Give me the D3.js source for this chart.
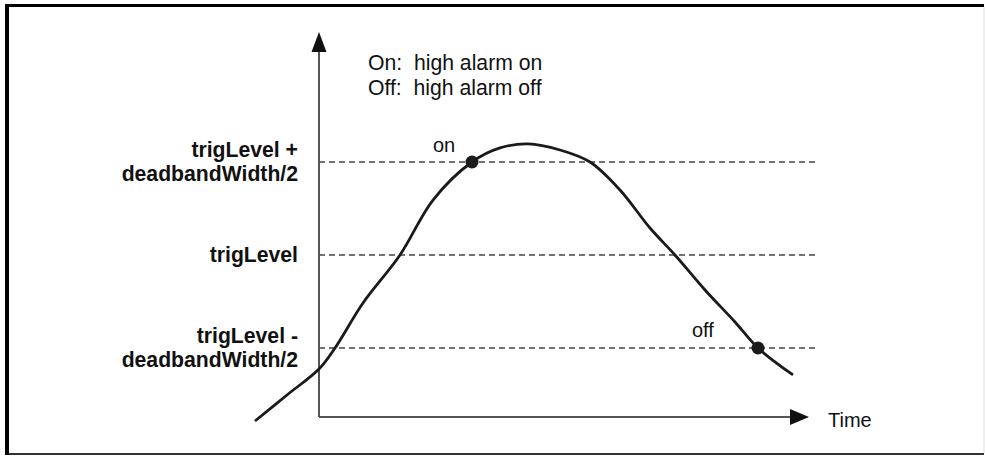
<!DOCTYPE html>
<html lang="en">
<head>
<meta charset="utf-8">
<title>High alarm with deadband</title>
<script src="https://d3js.org/d3.v7.min.js"></script>
<style>
  body { margin: 0; background: #fff; }
  text { font-family: "Liberation Sans", Arial, Helvetica, sans-serif; fill: #111; }
  .lvl { font-weight: bold; }
</style>
</head>
<body>
<svg id="chart" width="985" height="456"></svg>
<script>
// signal over time (time units, level units: 0 = trigLevel, +-1 = +-deadbandWidth/2)
var times  = [-12.8, -6.4, 0, 3.2, 8.8, 16.2, 22.8, 30.6, 36.2, 41.8, 48.2, 54.2, 60.2, 66.2, 71.2, 77.2, 83.2, 87.8, 94.8];
var values = [-1.785, -1.505, -1.226, -1.0, -0.516, 0, 0.591, 1.0, 1.151, 1.194, 1.129, 1.0, 0.699, 0.29, 0, -0.376, -0.72, -1.0, -1.29];

// threshold levels and their labels
var levels = [1, 0, -1];
var levelLabels = [["trigLevel +", "deadbandWidth/2"], ["trigLevel"], ["trigLevel -", "deadbandWidth/2"]];

// switching events
var eventTimes  = [30.6, 87.8];
var eventValues = [1, -1];
var eventNames  = ["on", "off"];

var legendLines = ["On:  high alarm on", "Off:  high alarm off"];
var axisLabel = "Time";

var svg = d3.select("#chart");

var x = d3.scaleLinear().domain([0, 100]).range([319, 819]);
var y = d3.scaleLinear().domain([-1, 1]).range([348, 162]);

var axisY = y(-1.742);   // time axis position
var topY = y(2.398);     // arrow tip of value axis
var axisEnd = x(98);     // arrow tip of time axis

// frame
svg.append("line").attr("x1", 5).attr("x2", 984).attr("y1", 5.5).attr("y2", 5.5)
  .attr("stroke", "#000").attr("stroke-width", 3);
svg.append("line").attr("x1", 7).attr("x2", 7).attr("y1", 4).attr("y2", 455)
  .attr("stroke", "#000").attr("stroke-width", 4);
svg.append("line").attr("x1", 9).attr("x2", 984).attr("y1", 454).attr("y2", 454)
  .attr("stroke", "#333").attr("stroke-width", 2);
svg.append("line").attr("x1", 984).attr("x2", 984).attr("y1", 7).attr("y2", 453)
  .attr("stroke", "#ddd").attr("stroke-width", 1);

// dashed threshold lines
svg.append("g").selectAll("line")
  .data(levels)
  .enter()
  .append("line")
    .attr("x1", x(0)).attr("x2", x(99.6))
    .attr("y1", function(d){ return y(d); })
    .attr("y2", function(d){ return y(d); })
    .attr("stroke", "#444")
    .attr("stroke-width", 1.3)
    .attr("stroke-dasharray", "6,4");

// axes with arrow heads
svg.append("line").attr("x1", x(0)).attr("x2", x(0)).attr("y1", axisY).attr("y2", topY + 16)
  .attr("stroke", "#555").attr("stroke-width", 2);
svg.append("path")
  .attr("d", "M" + x(0) + "," + topY + "L" + (x(0) - 7.5) + "," + (topY + 20) + "L" + (x(0) + 7.5) + "," + (topY + 20) + "Z")
  .attr("fill", "#111");
svg.append("line").attr("x1", x(0)).attr("x2", axisEnd - 16).attr("y1", axisY).attr("y2", axisY)
  .attr("stroke", "#555").attr("stroke-width", 2);
svg.append("path")
  .attr("d", "M" + axisEnd + "," + axisY + "L" + (axisEnd - 19) + "," + (axisY - 8) + "L" + (axisEnd - 19) + "," + (axisY + 8) + "Z")
  .attr("fill", "#111");

svg.append("text").attr("x", axisEnd + 19).attr("y", axisY + 10)
  .style("font-size", "20px").text(axisLabel);

// level labels
levels.forEach(function(lv, i){
  var lines = levelLabels[i];
  var t = svg.append("text").attr("class", "lvl")
    .attr("text-anchor", "end")
    .style("font-size", "21.2px");
  var y0 = lines.length === 1 ? y(lv) + 7 : y(lv) - 5;
  lines.forEach(function(s, j){
    t.append("tspan").attr("x", 298).attr("y", y0 + j * 23.5).text(s);
  });
});

// legend
svg.append("g").selectAll("text")
  .data(legendLines)
  .enter()
  .append("text")
    .attr("x", 368)
    .attr("y", function(d, i){ return 70 + i * 25; })
    .style("font-size", "21.2px")
    .style("white-space", "pre")
    .text(function(d){ return d; });

// signal curve
var pts = times.map(function(t, i){ return [t, values[i]]; });
var line = d3.line()
  .x(function(d){ return x(d[0]); })
  .y(function(d){ return y(d[1]); })
  .curve(d3.curveCatmullRom.alpha(0.5));

svg.append("path")
  .datum(pts)
  .attr("d", line)
  .attr("fill", "none")
  .attr("stroke", "#1a1a1a")
  .attr("stroke-width", 2.8);

// event markers
svg.append("g").selectAll("circle")
  .data(eventTimes)
  .enter()
  .append("circle")
    .attr("cx", function(d){ return x(d); })
    .attr("cy", function(d, i){ return y(eventValues[i]); })
    .attr("r", 6.5)
    .attr("fill", "#1a1a1a");

svg.append("g").selectAll("text")
  .data(eventNames)
  .enter()
  .append("text")
    .attr("x", function(d, i){ return i === 0 ? x(eventTimes[i]) - 39 : x(eventTimes[i]) - 66; })
    .attr("y", function(d, i){ return y(eventValues[i]) - (i === 0 ? 10 : 11); })
    .style("font-size", "20px")
    .text(function(d){ return d; });
</script>
</body>
</html>
